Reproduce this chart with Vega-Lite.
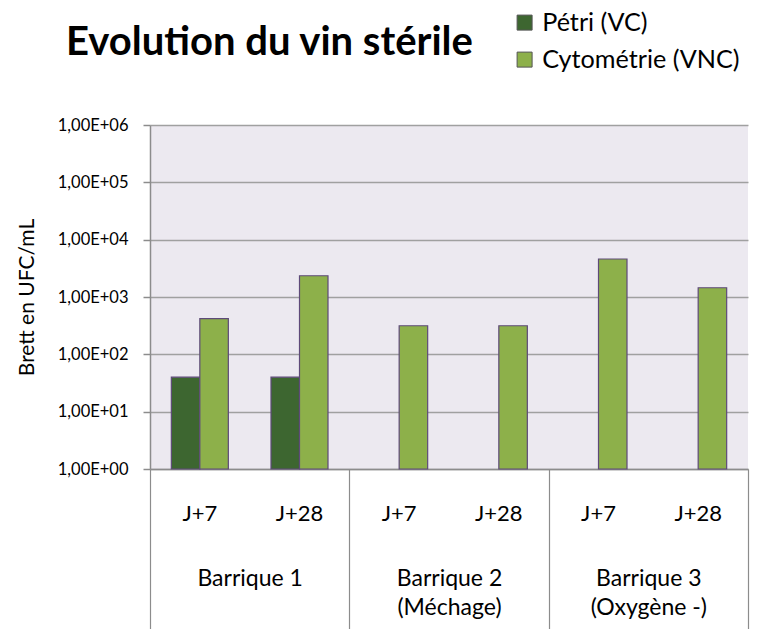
{
  "$schema": "https://vega.github.io/schema/vega-lite/v6.json",
  "width": 598,
  "height": 344,
  "autosize": {"type": "none"},
  "padding": {"left": 150, "top": 125, "right": 10, "bottom": 160},
  "background": "white",
  "config": {"font": "Lato", "view": {"fill": "#ECE9F0", "stroke": null}},
  "title": {"text": "Evolution du vin stérile", "anchor": "start", "frame": "group", "dx": -84, "dy": 85, "offset": 0, "baseline": "alphabetic", "fontSize": 40, "fontWeight": "bold", "color": "black", "font": "Lato"},
  "data": {"values": [
    {"cat": "Barrique 1 J+7", "barrique": "Barrique 1", "serie": "Pétri (VC)", "value": 40},
    {"cat": "Barrique 1 J+7", "barrique": "Barrique 1", "serie": "Cytométrie (VNC)", "value": 420},
    {"cat": "Barrique 1 J+28", "barrique": "Barrique 1", "serie": "Pétri (VC)", "value": 40},
    {"cat": "Barrique 1 J+28", "barrique": "Barrique 1", "serie": "Cytométrie (VNC)", "value": 2350},
    {"cat": "Barrique 2 (Méchage) J+7", "barrique": "Barrique 2 (Méchage)", "serie": "Cytométrie (VNC)", "value": 315},
    {"cat": "Barrique 2 (Méchage) J+28", "barrique": "Barrique 2 (Méchage)", "serie": "Cytométrie (VNC)", "value": 315},
    {"cat": "Barrique 3 (Oxygène -) J+7", "barrique": "Barrique 3 (Oxygène -)", "serie": "Cytométrie (VNC)", "value": 4600},
    {"cat": "Barrique 3 (Oxygène -) J+28", "barrique": "Barrique 3 (Oxygène -)", "serie": "Cytométrie (VNC)", "value": 1450}
  ]},
  "layer": [
    {
      "mark": {"type": "bar", "stroke": "#5E4A79", "strokeWidth": 1.2},
      "encoding": {
        "x": {
          "field": "cat", "type": "nominal",
          "sort": ["Barrique 1 J+7", "Barrique 1 J+28", "Barrique 2 (Méchage) J+7", "Barrique 2 (Méchage) J+28", "Barrique 3 (Oxygène -) J+7", "Barrique 3 (Oxygène -) J+28"],
          "scale": {"type": "band", "paddingInner": 0.428, "paddingOuter": 0.214},
          "axis": {"orient": "bottom", "title": null, "ticks": false, "labelAngle": 0, "labelPadding": 34, "labelFontSize": 22, "labelColor": "black", "domainColor": "#8C8C8C", "domainWidth": 1.5, "grid": false, "labelOverlap": false,
            "labelExpr": "substring(datum.label, indexof(datum.label, 'J+'))"}
        },
        "xOffset": {"field": "serie", "type": "nominal", "sort": ["Pétri (VC)", "Cytométrie (VNC)"], "scale": {"paddingInner": 0, "paddingOuter": 0}},
        "y": {
          "field": "value", "type": "quantitative",
          "scale": {"type": "log", "domain": [1, 1000000]},
          "axis": {"title": "Brett en UFC/mL", "titleFontSize": 21, "titleFontWeight": "normal", "titleColor": "black", "titlePadding": 20,
            "values": [1, 10, 100, 1000, 10000, 100000, 1000000],
            "labelExpr": "'1,00E+0' + round(log(datum.value) / LN10)",
            "labelFontSize": 16.5, "labelColor": "black", "labelPadding": 15,
            "grid": true, "gridColor": "#A0A0A0", "gridWidth": 1.5,
            "domainColor": "#8C8C8C", "domainWidth": 1.5, "tickColor": "#8C8C8C", "tickSize": 7, "tickWidth": 1.5}
        },
        "y2": {"datum": 1},
        "color": {
          "field": "serie", "type": "nominal",
          "scale": {"domain": ["Pétri (VC)", "Cytométrie (VNC)"], "range": ["#3D6630", "#8DB04A"]},
          "legend": {"orient": "none", "legendX": 362, "legendY": -115, "title": null, "direction": "vertical", "symbolType": "square", "symbolSize": 225, "symbolStrokeColor": "#555555", "symbolStrokeWidth": 1, "labelFontSize": 25.2, "labelLimit": 300, "labelColor": "black", "labelOffset": 5, "rowPadding": 11}
        }
      }
    },
    {
      "mark": {"type": "bar", "opacity": 0},
      "encoding": {
        "x": {
          "field": "barrique", "type": "nominal",
          "sort": ["Barrique 1", "Barrique 2 (Méchage)", "Barrique 3 (Oxygène -)"],
          "scale": {"type": "band", "paddingInner": 0, "paddingOuter": 0},
          "axis": {"orient": "bottom", "title": null, "domain": false, "ticks": true, "tickBand": "extent", "tickSize": 160, "tickColor": "#8C8C8C", "tickWidth": 1.2, "labelPadding": -62, "labelFontSize": 23, "labelLineHeight": 29, "labelColor": "black", "labelAngle": 0, "grid": false, "labelOverlap": false,
            "labelExpr": "indexof(datum.label, '(') > 0 ? [substring(datum.label, 0, indexof(datum.label, '(') - 1), substring(datum.label, indexof(datum.label, '('))] : datum.label"}
        }
      }
    }
  ],
  "resolve": {"scale": {"x": "independent"}}
}
